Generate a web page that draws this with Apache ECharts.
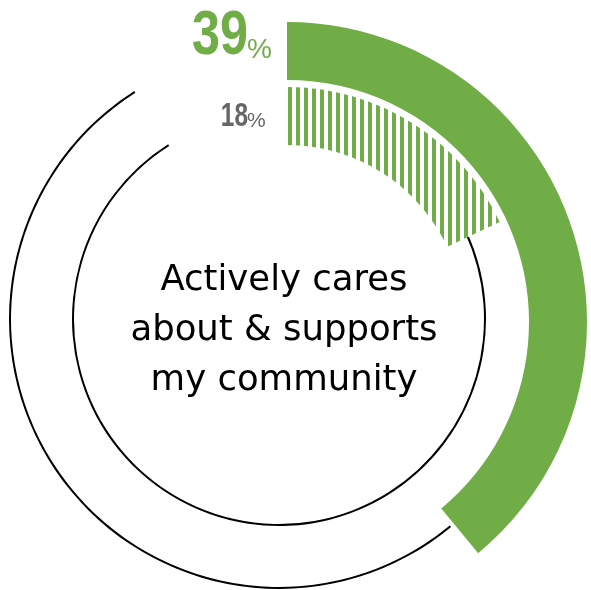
<!DOCTYPE html>
<html>
<head>
<meta charset="utf-8">
<script src="https://cdn.jsdelivr.net/npm/echarts@6/dist/echarts.min.js"></script>
<style>
  html, body { margin: 0; padding: 0; background: #ffffff; }
  #chart { width: 591px; height: 590px; }
</style>
</head>
<body>
<div id="chart"></div>
<script>
// Statement shown in the middle of the rings
const statementLines = ['Actively cares', 'about & supports', 'my community'];
// Ring values in percent: outer (solid) and inner (striped)
const ringValues = [39, 18];
// Share of the circle covered by the thin track behind each ring
const trackSpans = [91, 91];

const GREEN = '#70AD47';
const GREY_TEXT = '#666666';

const chart = echarts.init(document.getElementById('chart'), null, { renderer: 'canvas' });

const ringCenter = [287, 322];
const trackCenter = [279, 319];

function valueRing(value, radius, style) {
  return {
    type: 'pie',
    silent: true,
    center: ringCenter,
    radius: radius,
    startAngle: 90,
    clockwise: true,
    label: { show: false },
    labelLine: { show: false },
    emphasis: { disabled: true },
    itemStyle: { borderWidth: 0 },
    data: [
      { value: value, itemStyle: style },
      { value: 100 - value, itemStyle: { color: 'rgba(0,0,0,0)' } }
    ]
  };
}

function trackRing(value, span, radius) {
  return {
    type: 'pie',
    silent: true,
    center: trackCenter,
    radius: radius,
    startAngle: 90,
    clockwise: true,
    label: { show: false },
    labelLine: { show: false },
    emphasis: { disabled: true },
    itemStyle: { borderWidth: 0 },
    data: [
      { value: value, itemStyle: { color: 'rgba(0,0,0,0)' } },
      { value: span - value, itemStyle: { color: '#000000' } },
      { value: 100 - span, itemStyle: { color: 'rgba(0,0,0,0)' } }
    ]
  };
}

const option = {
  backgroundColor: '#ffffff',
  animation: false,
  series: [
    trackRing(ringValues[0], trackSpans[0], [268, 270]),
    trackRing(ringValues[1], trackSpans[1], [205, 207]),
    valueRing(ringValues[0], [242, 300], { color: GREEN }),
    valueRing(ringValues[1], [177, 235], {
      color: '#ffffff',
      decal: {
        symbol: 'rect',
        symbolSize: 1,
        color: GREEN,
        backgroundColor: '#ffffff',
        dashArrayX: [4, 4],
        dashArrayY: [8, 0],
        rotation: 0
      }
    })
  ],
  graphic: [
    {
      type: 'text', x: 248, y: 37, scaleX: 0.8,
      style: {
        text: String(ringValues[0]),
        font: 'bold 63px "Liberation Sans", Arial, sans-serif',
        fill: GREEN, textAlign: 'right', textVerticalAlign: 'middle'
      }
    },
    {
      type: 'text', x: 247, y: 50,
      style: {
        text: '%',
        font: '28px "Liberation Sans", Arial, sans-serif',
        fill: GREEN, textAlign: 'left', textVerticalAlign: 'middle'
      }
    },
    {
      type: 'text', x: 248, y: 117, scaleX: 0.74,
      style: {
        text: String(ringValues[1]),
        font: 'bold 33px "Liberation Sans", Arial, sans-serif',
        fill: GREY_TEXT, textAlign: 'right', textVerticalAlign: 'middle'
      }
    },
    {
      type: 'text', x: 247, y: 121,
      style: {
        text: '%',
        font: '21px "Liberation Sans", Arial, sans-serif',
        fill: GREY_TEXT, textAlign: 'left', textVerticalAlign: 'middle'
      }
    },
    {
      type: 'text', x: 284, y: 331, scaleX: 0.985,
      style: {
        text: statementLines.join('\n'),
        font: '36px "DejaVu Sans", sans-serif',
        lineHeight: 50,
        fill: '#000000', textAlign: 'center', textVerticalAlign: 'middle'
      }
    }
  ]
};

chart.setOption(option);
</script>
</body>
</html>
